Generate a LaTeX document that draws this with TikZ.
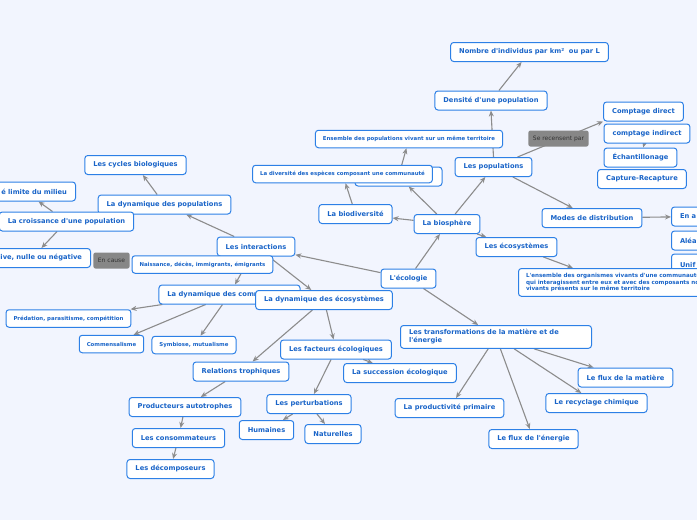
\documentclass[tikz,border=0pt]{standalone}
\usepackage{fontspec}
\newfontfamily\mapfont{DejaVu Sans}
\usetikzlibrary{arrows.meta}

\definecolor{mapbg}{RGB}{242,245,254}
\definecolor{boxline}{RGB}{45,128,230}
\definecolor{boxtext}{RGB}{25,100,200}
\definecolor{linkgray}{RGB}{140,140,140}
\definecolor{taggray}{RGB}{135,135,135}
\definecolor{tagtext}{RGB}{50,50,50}

\pgfdeclarelayer{edges}
\pgfsetlayers{edges,main}

\tikzset{
  topic/.style={draw=boxline, fill=white, line width=1pt, rounded corners=3pt,
    text=boxtext, font=\mapfont\bfseries\fontsize{6.7}{8}\selectfont,
    inner xsep=8.5pt, inner ysep=0pt, minimum height=19pt},
  small topic/.style={topic, font=\mapfont\bfseries\fontsize{5.4}{6.6}\selectfont,
    inner xsep=7.5pt, minimum height=17.5pt},
  tag/.style={fill=taggray, rounded corners=2pt, text=tagtext,
    font=\mapfont\fontsize{6}{7}\selectfont, inner xsep=4.5pt, minimum height=16pt},
  link/.style={draw=linkgray, line width=1.1pt, -{Stealth[length=6pt,width=5pt]}},
}

\begin{document}
\begin{tikzpicture}[x=1pt,y=-1pt]
\useasboundingbox (0,0) rectangle (697,520);

% ---- top right: populations
\node[topic] (nombre) at (529.5,52) {Nombre d'individus par km²\ \ ou par L};
\node[topic] (densite) at (491,100.5) {Densité d'une population};
\node[small topic] (ensemble) at (409,139) {Ensemble des populations vivant sur un même territoire};
\node[topic] (cdirect) at (643.5,111.5) {Comptage direct};
\node[topic] (cindirect) at (647,133.5) {comptage indirect};
\node[topic] (echant) at (640.5,157.5) {Échantillonage};
\node[topic] (capture) at (642,179) {Capture-Recapture};
\node[topic] (pops) at (493.5,167) {Les populations};
\node[tag] (recens) at (558.5,138.5) {Se recensent par};

% ---- left: interactions
\node[topic] (cycles) at (135.5,165) {Les cycles biologiques};
\node[topic, minimum width=87pt] (commu) at (398.5,176.5) {};
\node[small topic] (diversite) at (342.5,174) {La diversité des espèces composant une communauté};
\node[topic] (dynpop) at (164.5,204.5) {La dynamique des populations};
\node[topic, anchor=east, text width=85pt, align=right] (limite) at (76,191.5) {é limite du milieu};
\node[topic] (croissance) at (66.5,221.5) {La croissance d'une population};
\node[topic, anchor=east, text width=100pt, align=right] (variation) at (91,258) {ive, nulle ou négative};
\node[tag] (cause) at (111.5,260.5) {En cause};
\node[topic] (interactions) at (256,246.5) {Les interactions};
\node[small topic] (naissance) at (202.5,264.5) {Naissance, décès, immigrants, émigrants};
\node[topic] (dyncomm) at (229.5,294.5) {La dynamique des communautés};
\node[topic] (dyneco) at (324,300) {La dynamique des écosystèmes};
\node[small topic] (predation) at (68.5,318.5) {Prédation, parasitisme, compétition};
\node[small topic] (commensal) at (111.5,344) {Commensalisme};
\node[small topic] (symbiose) at (194,345) {Symbiose, mutualisme};

% ---- bottom: ecosystem dynamics
\node[topic] (trophiques) at (241,371.5) {Relations trophiques};
\node[topic] (facteurs) at (336,349.5) {Les facteurs écologiques};
\node[topic] (succession) at (400,373) {La succession écologique};
\node[topic] (producteurs) at (185,407) {Producteurs autotrophes};
\node[topic] (perturb) at (309,404) {Les perturbations};
\node[topic] (humaines) at (266.5,430) {Humaines};
\node[topic] (naturelles) at (333,434) {Naturelles};
\node[topic] (consomm) at (178.5,438) {Les consommateurs};
\node[topic] (decomp) at (170.5,469) {Les décomposeurs};

% ---- centre and right
\node[topic] (ecologie) at (408.5,278.5) {L'écologie};
\node[topic] (biosphere) at (447,224) {La biosphère};
\node[topic] (biodiv) at (355.5,214) {La biodiversité};
\node[topic] (ecosys) at (516.5,247) {Les écosystèmes};
\node[topic] (modes) at (592,218) {Modes de distribution};
\node[topic, anchor=west, text width=40pt, align=left] (agregat) at (671,216.5) {En a};
\node[topic, anchor=west, text width=40pt, align=left] (aleat) at (671,240.5) {Aléa};
\node[topic, anchor=west, text width=40pt, align=left, minimum height=21pt] (uniforme) at (671,264.5) {Unif};
\node[small topic, anchor=north west, text width=200pt, align=left, inner ysep=4.5pt,
      font=\mapfont\bfseries\fontsize{5.6}{6.6}\selectfont] (ensembleorg) at (518,268)
  {L'ensemble des organismes vivants d'une communauté\\qui interagissent entre eux et avec des composants non\\vivants présents sur le même territoire};
\node[topic, anchor=north west, text width=174pt, align=left, inner ysep=4pt] (transfo) at (400,325)
  {Les transformations de la matière et de\\l'énergie};
\node[topic] (fluxmat) at (625.5,377.5) {Le flux de la matière};
\node[topic] (recyclage) at (596.5,403) {Le recyclage chimique};
\node[topic] (productivite) at (449.5,408) {La productivité primaire};
\node[topic] (fluxener) at (533.5,439) {Le flux de l'énergie};

\begin{pgfonlayer}{edges}
  \fill[mapbg] (0,0) rectangle (697,520);
  % populations
  \draw[link] (densite) -- (nombre);
  \draw[link] (pops.north) -- (densite.south);
  \draw[link] (pops) -- (cdirect.south west);
  \draw[link] (cindirect) -- (echant);
  \draw[link] (pops) -- (modes);
  \draw[link] (modes) -- (agregat);
  % biosphere
  \draw[link] (biosphere) -- (pops);
  \draw[link] (biosphere) -- (commu);
  \draw[link] (commu) -- (ensemble);
  \draw[link] (biosphere) -- (biodiv);
  \draw[link] (biodiv) -- (diversite);
  \draw[link] (biosphere) -- (ecosys);
  \draw[link] (ecosys) -- ([xshift=55pt]ensembleorg.north west);
  % ecologie
  \draw[link] (ecologie) -- (biosphere);
  \draw[link] (ecologie) -- (interactions);
  \draw[link] (ecologie) -- (transfo);
  % interactions
  \draw[link] (interactions) -- (dynpop);
  \draw[link] (dynpop) -- (cycles);
  \draw[link] (croissance) -- (limite);
  \draw[link] (croissance) -- (variation);
  \draw[link] (interactions) -- (dyncomm);
  \draw[link] (interactions) -- (dyneco);
  \draw[link] (dyncomm) -- (predation);
  \draw[link] (dyncomm) -- (commensal);
  \draw[link] (dyncomm) -- (symbiose);
  % ecosystemes
  \draw[link] (dyneco) -- (trophiques);
  \draw[link] (dyneco) -- (facteurs);
  \draw[link] (facteurs) -- (succession);
  \draw[link] (facteurs) -- (perturb);
  \draw[link] (trophiques) -- (producteurs);
  \draw[link] (producteurs) -- (consomm);
  \draw[link] (consomm) -- (decomp);
  \draw[link] (perturb) -- (humaines);
  \draw[link] (perturb) -- (naturelles);
  % transformations
  \draw[link] (transfo) -- (productivite);
  \draw[link] (transfo) -- (fluxener);
  \draw[link] (transfo) -- (recyclage);
  \draw[link] (transfo) -- (fluxmat);
\end{pgfonlayer}

\end{tikzpicture}
\end{document}
